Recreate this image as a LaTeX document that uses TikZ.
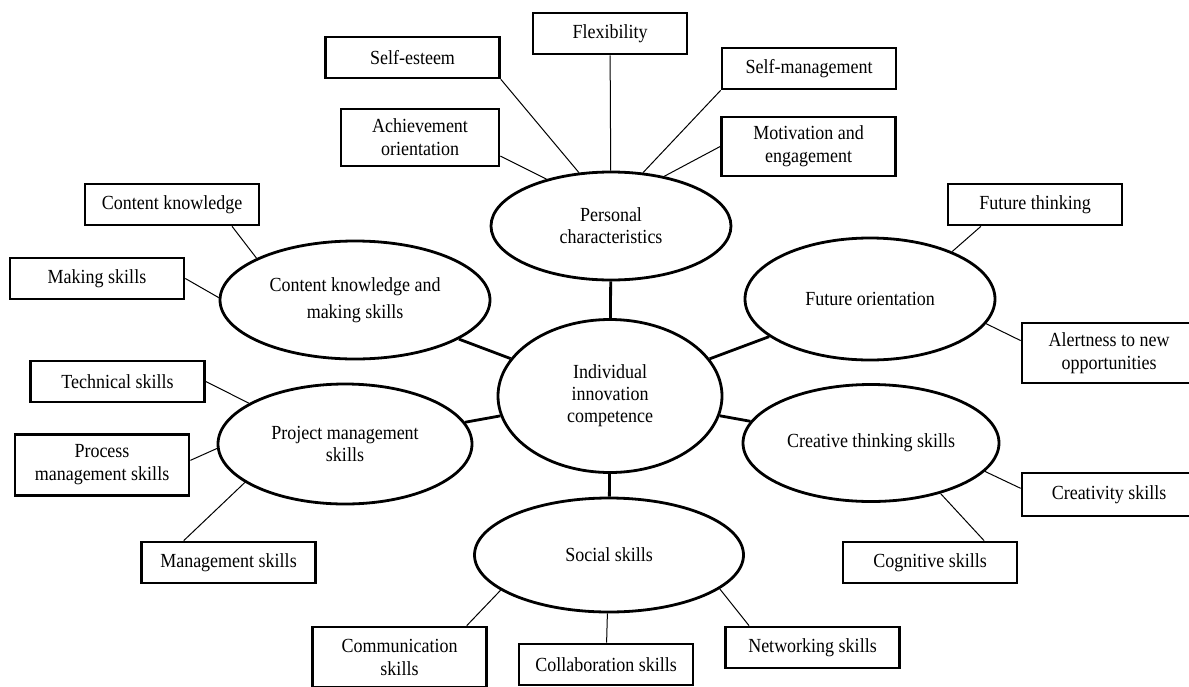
\documentclass[tikz,border=0pt]{standalone}
\usepackage{fontspec}
\setmainfont{Liberation Serif}[FakeStretch=0.9]
\usetikzlibrary{shapes.geometric}

\begin{document}
\begin{tikzpicture}[x=1pt,y=-1pt,
    my box/.style={draw, line width=2.7pt, minimum width=174pt, minimum height=41pt,
      inner sep=0pt, align=center, font=\fontsize{20}{23}\selectfont},
    my area/.style={draw, ellipse, line width=2.8pt, inner sep=0pt, align=center,
      font=\fontsize{20}{22}\selectfont},
    thin link/.style={line width=1pt},
    thick link/.style={line width=2.8pt},
  ]
  \fill[white] (0,0) rectangle (1189,686);
  \useasboundingbox (0,0) rectangle (1189,686);
  % the seven areas
  \node[my area, minimum width=240pt, minimum height=108pt] (personal) at (611,226) {Personal\\characteristics};
  \node[my area, minimum width=270pt, minimum height=118pt, font=\fontsize{20}{27}\selectfont] (content) at (355,300) {Content knowledge and\\making skills};
  \node[my area, minimum width=250pt, minimum height=122pt] (future) at (870,299) {Future orientation};
  \node[my area, minimum width=254pt, minimum height=120pt] (project) at (345,444) {Project management\\skills};
  \node[my area, minimum width=224pt, minimum height=153pt] (center) at (610,396) {Individual\\innovation\\competence};
  \node[my area, minimum width=256pt, minimum height=117pt] (creative) at (871,443) {Creative thinking skills};
  \node[my area, minimum width=269pt, minimum height=114pt] (social) at (609,555) {Social skills};
  % the boxes
  \node[my box] (selfesteem) at (412.5,57.5) {Self-esteem};
  \node[my box, minimum width=154pt] (flexibility) at (610,33.5) {Flexibility};
  \node[my box] (selfmgmt) at (809,68.5) {Self-management};
  \node[my box, minimum width=158pt, minimum height=57pt] (achieve) at (420,137.5) {Achievement\\orientation};
  \node[my box, minimum height=59pt] (motivation) at (808.5,146.5) {Motivation and\\engagement};
  \node[my box] (contentk) at (172,204.5) {Content knowledge};
  \node[my box] (making) at (97,278.5) {Making skills};
  \node[my box] (futurethink) at (1035,204.5) {Future thinking};
  \node[my box, minimum height=60pt] (alert) at (1109,353) {Alertness to new\\opportunities};
  \node[my box] (technical) at (117.5,381.5) {Technical skills};
  \node[my box, minimum height=61pt] (process) at (102,465) {Process\\management skills};
  \node[my box] (mgmt) at (228.5,562.5) {Management skills};
  \node[my box, minimum height=43pt] (creativity) at (1109,494.5) {Creativity skills};
  \node[my box] (cognitive) at (930,562.5) {Cognitive skills};
  \node[my box, minimum height=60pt] (communication) at (399.5,657) {Communication\\skills};
  \node[my box] (collab) at (606,664.5) {Collaboration skills};
  \node[my box] (networking) at (812.5,647.5) {Networking skills};
  % links to the core
  \draw[thick link] (center) -- (personal);
  \draw[thick link] (center) -- (social);
  \draw[thick link] (center) -- (content);
  \draw[thick link] (center) -- (project);
  \draw[thick link] (center) -- (future);
  \draw[thick link] (center) -- (creative);
  % links to the boxes
  \draw[thin link] (selfesteem.south east) -- (personal.121);
  \draw[thin link] (achieve.-13) -- (personal.144);
  \draw[thin link] (flexibility) -- (personal);
  \draw[thin link] (selfmgmt.south west) -- (personal.59);
  \draw[thin link] (motivation.west) -- (personal.43);
  \draw[thin link] (contentk.-20) -- (content.157);
  \draw[thin link] (making.east) -- (content.179);
  \draw[thin link] (technical.east) -- (project.157);
  \draw[thin link] (process.3) -- (project.182);
  \draw[thin link] (mgmt.154) -- (project.201);
  \draw[thin link] (futurethink.202) -- (future.30);
  \draw[thin link] (alert.172) -- (future.-12);
  \draw[thin link] (creativity.176) -- (creative.-14);
  \draw[thin link] (cognitive.22) -- (creative.-36);
  \draw[thin link] (communication.25) -- (social.198);
  \draw[thin link] (collab) -- (social);
  \draw[thin link] (networking.161) -- (social.-17);
\end{tikzpicture}
\end{document}
